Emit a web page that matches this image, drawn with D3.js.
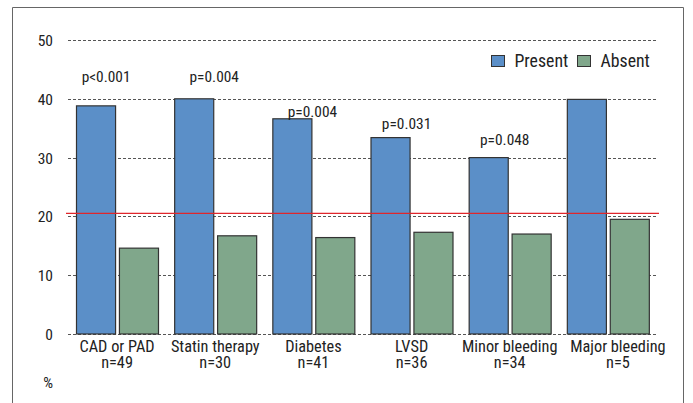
<!DOCTYPE html>
<html>
<head>
<meta charset="utf-8">
<script src="https://cdn.jsdelivr.net/npm/d3@7"></script>
<style>
  html, body { margin: 0; padding: 0; background: #fff; }
  svg { display: block; }
  text { font-family: "Roboto Condensed", Roboto, sans-serif; fill: #222; }
</style>
</head>
<body>
<svg id="chart" width="693" height="403"></svg>
<script>
// Event rates (%) by risk factor, with and without the factor
const categories = ["CAD or PAD", "Statin therapy", "Diabetes", "LVSD", "Minor bleeding", "Major bleeding"];
const sampleSizes = ["n=49", "n=30", "n=41", "n=36", "n=34", "n=5"];
const presentValues = [38.8, 40.0, 36.6, 33.4, 30.0, 39.9];
const absentValues = [14.6, 16.7, 16.4, 17.3, 17.0, 19.5];
const pValues = ["p<0.001", "p=0.004", "p=0.004", "p=0.031", "p=0.048", ""];
const seriesNames = ["Present", "Absent"];
const yTicks = [0, 10, 20, 30, 40, 50];
const referenceRate = 20.5;

const colors = { Present: "#5b8fc8", Absent: "#80a78b" };
const fontStack = "\"Roboto Condensed\", Roboto, sans-serif";

const svg = d3.select("#chart");

// Outer frame (open at the bottom)
svg.append("path")
  .attr("d", "M12.5,403 V7.5 H683.5 V403")
  .attr("fill", "none")
  .attr("stroke", "#666")
  .attr("stroke-width", 1);

const plot = { left: 68, right: 657, top: 40, bottom: 334 };

const y = d3.scaleLinear().domain([0, 50]).range([plot.bottom, plot.top]);
const x = d3.scaleBand().domain(categories).range([plot.left, plot.right]);
const xSub = d3.scaleBand().domain(seriesNames).range([8, 90]).paddingInner(0.09);

// Dashed gridlines
svg.append("g")
  .selectAll("line")
  .data(yTicks)
  .join("line")
  .attr("x1", plot.left)
  .attr("x2", plot.right)
  .attr("y1", d => Math.round(y(d)) + 0.5)
  .attr("y2", d => Math.round(y(d)) + 0.5)
  .attr("stroke", "#555")
  .attr("stroke-width", 1)
  .attr("stroke-dasharray", "3,2");

// Y axis labels
const yAxis = d3.axisLeft(y).tickValues(yTicks).tickSize(0).tickPadding(0);
const yg = svg.append("g").attr("transform", "translate(53,0)").call(yAxis);
yg.select(".domain").remove();
yg.selectAll("text")
  .attr("font-size", 15.5)
  .attr("fill", "#222")
  .attr("dy", "0.36em")
  .style("font-family", fontStack);

svg.append("text")
  .attr("x", 53)
  .attr("y", 387.5)
  .attr("text-anchor", "end")
  .attr("font-size", 15.5)
  .text("%");

// Bars
const rows = categories.map((c, i) => ({
  category: c,
  values: [
    { series: "Present", value: presentValues[i] },
    { series: "Absent", value: absentValues[i] }
  ]
}));

const groups = svg.append("g")
  .selectAll("g")
  .data(rows)
  .join("g")
  .attr("transform", d => `translate(${x(d.category)},0)`);

groups.selectAll("rect")
  .data(d => d.values)
  .join("rect")
  .attr("x", d => xSub(d.series) + 0.5)
  .attr("y", d => y(d.value))
  .attr("width", xSub.bandwidth())
  .attr("height", d => y(0) - y(d.value))
  .attr("fill", d => colors[d.series])
  .attr("stroke", "#333")
  .attr("stroke-width", 1.2);

// Reference line
svg.append("line")
  .attr("x1", plot.left - 2)
  .attr("x2", plot.right + 2)
  .attr("y1", y(referenceRate))
  .attr("y2", y(referenceRate))
  .attr("stroke", "#e0262b")
  .attr("stroke-width", 1.2);

// Category labels with sample sizes underneath
const labelShift = categories.map((c, i) => (i === categories.length - 1 ? 10 : 0));
const labelX = (d, i) => x(d) + x.bandwidth() / 2 + labelShift[i];
const labelStyle = sel => sel
  .attr("text-anchor", "middle")
  .attr("font-size", 16.3);

svg.append("g")
  .selectAll("text")
  .data(categories)
  .join("text")
  .attr("x", labelX)
  .attr("y", 351.5)
  .call(labelStyle)
  .text(d => d);

svg.append("g")
  .selectAll("text")
  .data(categories)
  .join("text")
  .attr("x", labelX)
  .attr("y", 367.5)
  .call(labelStyle)
  .text((d, i) => sampleSizes[i]);

// p-value annotations, anchored at a level on the value axis
const pLevels = [42.8, 42.8, 36.9, 34.8, 32.2, 0];
const pShift = [-11, -1, -1, -5, -5, 0];
svg.append("g")
  .selectAll("text")
  .data(categories)
  .join("text")
  .attr("x", (d, i) => x(d) + x.bandwidth() / 2 + pShift[i])
  .attr("y", (d, i) => y(pLevels[i]))
  .attr("text-anchor", "middle")
  .attr("font-size", 15.4)
  .text((d, i) => pValues[i]);

// Legend
const legend = svg.append("g").attr("transform", "translate(491,55)");
const legendX = [0, 86];
seriesNames.forEach((s, i) => {
  legend.append("rect")
    .attr("x", legendX[i] + 0.5)
    .attr("y", 0.5)
    .attr("width", 13)
    .attr("height", 11)
    .attr("fill", colors[s])
    .attr("stroke", "#333")
    .attr("stroke-width", 1);
  legend.append("text")
    .attr("x", legendX[i] + 23.5)
    .attr("y", 11.8)
    .attr("font-size", 17.8)
    .text(s);
});
</script>
</body>
</html>
